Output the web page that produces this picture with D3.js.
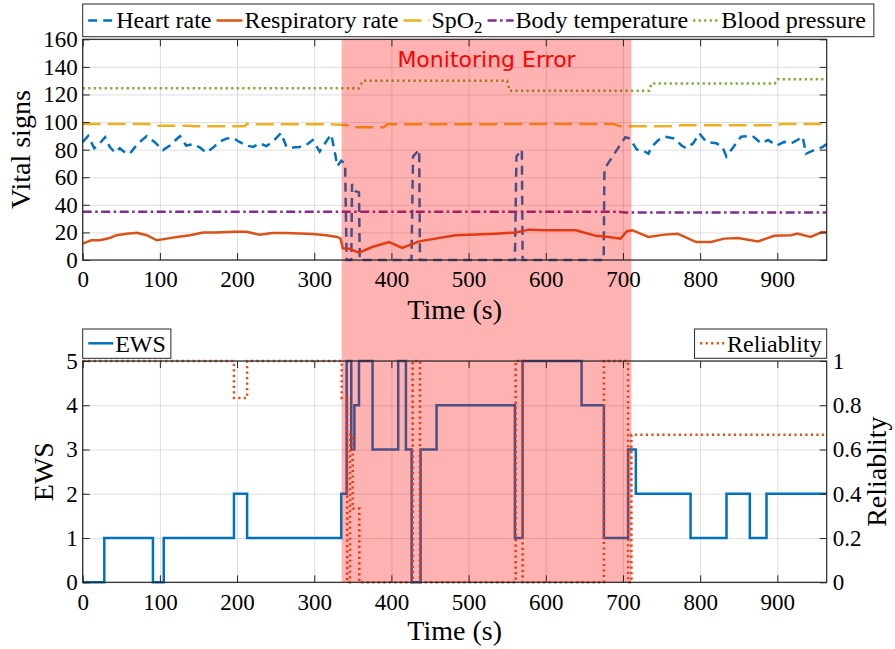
<!DOCTYPE html>
<html>
<head>
<meta charset="utf-8">
<script src="https://cdn.jsdelivr.net/npm/d3@7"></script>
<style>body{margin:0;background:#fff}</style>
</head>
<body>
<svg id="chart"></svg>
<script>
// values
const timeRange = [0, 964];
const xTicks = [0, 100, 200, 300, 400, 500, 600, 700, 800, 900];
const vitalTicks = [0, 20, 40, 60, 80, 100, 120, 140, 160];
const ewsTicks = [0, 1, 2, 3, 4, 5];
const relTicks = [0, 0.2, 0.4, 0.6, 0.8, 1];
const errorSpan = [335.5, 711];

const hrTime = [0,7,15,22,29,35,42,48,55,61,68,74,83,93,104,113,126,134,143,152,160,169,177,186,195,203,212,221,229,238,246,257,264,272,281,289,298,307,318,322,326,330,335,340,342,348,349,353,358,359,426,428,436,437,560,562,569,570,675,676,683,690,697,703,709,718,725,733,737,746,754,767,776,782,791,799,808,821,829,834,842,853,868,879,888,899,909,918,926,933,937,948,959,964];
const hrVal = [85.5,89.9,81,84.6,89,82,77.8,81,77.8,77,82,85.6,89.8,85.6,79.7,83,89.8,83,84,81.5,77.8,81.5,85.6,88,88.6,85.6,83,82,84.6,82.6,85.6,92,82,81.5,82,83,87,78.6,88,91,80,68,72,70,0,0,55,50,49,0,0,75,80,0,0,75,80,0,0,66,72,78,84,89,88,80,79.7,77,82,87,89.4,88,83,81,84.6,91.8,85.6,84.6,82,75,81,89.4,89.9,84.6,87,83,85.6,84.6,87,89.4,77,79.7,82,84];

const rrTime = [0,11,22,35,44,57,70,83,96,109,122,139,156,173,195,212,229,246,264,281,298,315,330,334,337,345,358,375,397,414,436,457,483,509,535,561,578,600,639,665,682,697,705,712,733,754,771,780,795,814,831,849,875,896,918,926,943,958,964];
const rrVal = [11.9,14.3,14.3,16,18,19.1,19.8,18,14.3,15.5,16.7,18,20,20,20.5,20.5,18.4,19.6,19.6,19.3,18.9,18,16.7,15.5,8.5,8.2,5.3,9.4,13,8.7,13.5,15.5,18,18.4,19.1,19.9,22,21.6,21.6,17.5,16.7,15.5,20.8,21.6,16.7,18.4,19.1,16.7,13,13,15.5,16,13.5,17.5,18,19.1,16.7,20.3,20];

const spo2Time = [0,85,90,138,143,210,213,216,320,345,350,390,395,688,697,770,775,900,905,964];
const spo2Val = [98.6,98.6,97.4,97.4,96.9,96.9,99,98.4,98.4,97.6,96.2,96.2,98.4,98.6,96.9,96.9,97.7,97.7,98.6,98.6];

const btTime = [0,695,702,964];
const btVal = [35,35,34.4,34.4];

const bpTime = [0,358,363,550,553,734,737,897,900,964];
const bpVal = [124.5,124.5,130,130,122.7,122.7,128,128,131,131];

const ewsTime = [0,28,91,105,196,213,335,342,348,352,358,375.6,408.8,418.8,426.2,437.8,458.5,560,570,646.4,675.3,706.7,716.7,787.6,834.2,864.4,886,964];
const ewsVal = [0,1,0,1,2,1,2,5,3,4,5,3,5,3,0,3,4,1,5,4,1,3,2,1,2,1,2,2];

const relTime = [0,196,213,335.5,342.7,346.4,349.8,358.4,427.5,437,561,570,675.3,706.7,711,964];
const relVal = [1,0.833,1,0.833,0,0.667,0.333,0,1,0,1,0,1,0,0.667,0.667];

const serif = 'Liberation Serif, DejaVu Serif, Times New Roman, serif';
const ink = '#262626';

const svg = d3.select('#chart').attr('width', 895).attr('height', 649);

const left = 82.7, right = 826.7;
const topBox = { y0: 39.3, y1: 260 };
const botBox = { y0: 361, y1: 582.3 };

const x = d3.scaleLinear().domain(timeRange).range([left, right]);
const yVit = d3.scaleLinear().domain([0, 160]).range([topBox.y1, topBox.y0]);
const yEws = d3.scaleLinear().domain([0, 5]).range([botBox.y1, botBox.y0]);
const yRel = d3.scaleLinear().domain([0, 1]).range([botBox.y1, botBox.y0]);

const gridLayer = svg.append('g');
const dataLayer = svg.append('g');
const shadeLayer = svg.append('g');
const axisLayer = svg.append('g');

// grid
function grid(y, yTicks, box) {
  gridLayer.append('g')
    .attr('transform', `translate(0,${box.y1})`)
    .call(d3.axisBottom(x).tickValues(xTicks).tickSize(-(box.y1 - box.y0)).tickFormat(''))
    .call(g => g.select('.domain').remove())
    .selectAll('line').attr('stroke', ink).attr('stroke-opacity', 0.15);
  gridLayer.append('g')
    .attr('transform', `translate(${left},0)`)
    .call(d3.axisLeft(y).tickValues(yTicks).tickSize(-(right - left)).tickFormat(''))
    .call(g => g.select('.domain').remove())
    .selectAll('line').attr('stroke', ink).attr('stroke-opacity', 0.15);
}
grid(yVit, vitalTicks, topBox);
grid(yEws, ewsTicks, botBox);

// vital signs
const vitals = [
  { name: 'Heart rate', t: hrTime, v: hrVal, color: '#0072BD', dash: '9,6' },
  { name: 'Respiratory rate', t: rrTime, v: rrVal, color: '#D95319', dash: null },
  { name: 'SpO', sub: '2', t: spo2Time, v: spo2Val, color: '#EDB120', dash: '18,7' },
  { name: 'Body temperature', t: btTime, v: btVal, color: '#7E2F8E', dash: '9,3.5,2.5,3.5' },
  { name: 'Blood pressure', t: bpTime, v: bpVal, color: '#77AC30', dash: '2.2,3.3' }
];

const vitLine = d3.line().x(d => x(d[0])).y(d => yVit(d[1]));
vitals.forEach(s => {
  dataLayer.append('path')
    .attr('d', vitLine(d3.zip(s.t, s.v)))
    .attr('fill', 'none')
    .attr('stroke', s.color)
    .attr('stroke-width', 2.5)
    .attr('stroke-dasharray', s.dash);
});

// EWS and reliability
const ewsLine = d3.line().x(d => x(d[0])).y(d => yEws(d[1])).curve(d3.curveStepAfter);
const relLine = d3.line().x(d => x(d[0])).y(d => yRel(d[1])).curve(d3.curveStepAfter);

dataLayer.append('path')
  .attr('d', ewsLine(d3.zip(ewsTime, ewsVal)))
  .attr('fill', 'none').attr('stroke', '#0072BD').attr('stroke-width', 2.5);
dataLayer.append('path')
  .attr('d', relLine(d3.zip(relTime, relVal)))
  .attr('fill', 'none').attr('stroke', '#D95319').attr('stroke-width', 2.5)
  .attr('stroke-dasharray', '2.2,3.3');

// monitoring error shade
shadeLayer.append('rect')
  .attr('x', x(errorSpan[0]))
  .attr('width', x(errorSpan[1]) - x(errorSpan[0]))
  .attr('y', topBox.y0)
  .attr('height', botBox.y1 - topBox.y0)
  .attr('fill', '#ff0000')
  .attr('fill-opacity', 0.3);

// axes
function styleAxis(g) {
  g.select('.domain').remove();
  g.selectAll('line').attr('stroke', ink).attr('stroke-width', 1);
  g.selectAll('text').attr('fill', '#000')
    .style('font-family', serif).style('font-size', '23px');
}

function frame(y, yTicks, box) {
  axisLayer.append('g').attr('transform', `translate(0,${box.y1})`)
    .call(d3.axisBottom(x).tickValues(xTicks).tickSize(-7).tickPadding(11))
    .call(styleAxis);
  axisLayer.append('g').attr('transform', `translate(0,${box.y0})`)
    .call(d3.axisTop(x).tickValues(xTicks).tickSize(-7).tickFormat(''))
    .call(styleAxis);
  axisLayer.append('g').attr('transform', `translate(${left},0)`)
    .call(d3.axisLeft(y).tickValues(yTicks).tickSize(-7).tickPadding(5).tickFormat(d3.format('~g')))
    .call(styleAxis);
  axisLayer.append('rect')
    .attr('x', left).attr('y', box.y0)
    .attr('width', right - left).attr('height', box.y1 - box.y0)
    .attr('fill', 'none').attr('stroke', ink).attr('stroke-width', 1.2);
}

frame(yVit, vitalTicks, topBox);
axisLayer.append('g').attr('transform', `translate(${right},0)`)
  .call(d3.axisRight(yVit).tickValues(vitalTicks).tickSize(-7).tickFormat(''))
  .call(styleAxis);

frame(yEws, ewsTicks, botBox);
axisLayer.append('g').attr('transform', `translate(${right},0)`)
  .call(d3.axisRight(yRel).tickValues(relTicks).tickSize(-7).tickPadding(6).tickFormat(d3.format('~g')))
  .call(styleAxis);

// axis titles
function title(txt, tx, ty, rot) {
  axisLayer.append('text')
    .attr('transform', `translate(${tx},${ty})` + (rot ? ' rotate(-90)' : ''))
    .attr('text-anchor', 'middle')
    .style('font-family', serif).style('font-size', '28px').attr('fill', '#000')
    .text(txt);
}
const midX = (left + right) / 2;
title('Time (s)', midX, topBox.y1 + 59, false);
title('Time (s)', midX, botBox.y1 + 57.5, false);
title('Vital signs', 30, (topBox.y0 + topBox.y1) / 2, true);
title('EWS', 53, (botBox.y0 + botBox.y1) / 2, true);
title('Reliablity', 886, (botBox.y0 + botBox.y1) / 2, true);

// annotation
axisLayer.append('text')
  .attr('x', (x(errorSpan[0]) + x(errorSpan[1])) / 2)
  .attr('y', 66.7)
  .attr('text-anchor', 'middle')
  .style('font-family', 'DejaVu Sans, sans-serif')
  .style('font-size', '22px')
  .attr('fill', '#ff0000')
  .text('Monitoring Error');

// legends
const legFont = '24px';
function legendBox(g, x0, y0, h, w) {
  g.insert('rect', ':first-child')
    .attr('x', x0).attr('y', y0).attr('width', w).attr('height', h)
    .attr('fill', '#fff').attr('stroke', ink).attr('stroke-width', 1);
}

const legTop = svg.append('g');
let lx = left + 5.5;
vitals.forEach(s => {
  legTop.append('line')
    .attr('x1', lx).attr('x2', lx + 26).attr('y1', 20.5).attr('y2', 20.5)
    .attr('stroke', s.color).attr('stroke-width', 2.5)
    .attr('stroke-dasharray', s.dash);
  const t = legTop.append('text')
    .attr('x', lx + 28).attr('y', 28)
    .style('font-family', serif).style('font-size', legFont).attr('fill', '#000');
  t.append('tspan').text(s.name);
  if (s.sub) t.append('tspan').attr('dy', 5).style('font-size', '17px').text(s.sub);
  lx += 28 + t.node().getComputedTextLength() + 5;
});
legendBox(legTop, left, 4, 32.7, lx - left + 3);

const legEws = svg.append('g');
legEws.append('line')
  .attr('x1', left + 5.6).attr('x2', left + 30.6).attr('y1', 343.3).attr('y2', 343.3)
  .attr('stroke', '#0072BD').attr('stroke-width', 2.5);
const ewsTxt = legEws.append('text')
  .attr('x', left + 32.5).attr('y', 351.5)
  .style('font-family', serif).style('font-size', legFont).attr('fill', '#000')
  .text('EWS');
legendBox(legEws, left, 329, 29.3, 32.5 + ewsTxt.node().getComputedTextLength() + 5);

const legRel = svg.append('g');
const relTxt = legRel.append('text')
  .attr('text-anchor', 'end')
  .attr('x', right - 5).attr('y', 351.5)
  .style('font-family', serif).style('font-size', legFont).attr('fill', '#000')
  .text('Reliablity');
const relW = relTxt.node().getComputedTextLength();
const relX0 = right - 5 - relW - 32.5;
legRel.append('line')
  .attr('x1', relX0 + 5.6).attr('x2', relX0 + 29.6).attr('y1', 343.3).attr('y2', 343.3)
  .attr('stroke', '#D95319').attr('stroke-width', 2.5).attr('stroke-dasharray', '2.2,3.3');
legendBox(legRel, relX0, 329, 29.3, right - relX0);
</script>
</body>
</html>
